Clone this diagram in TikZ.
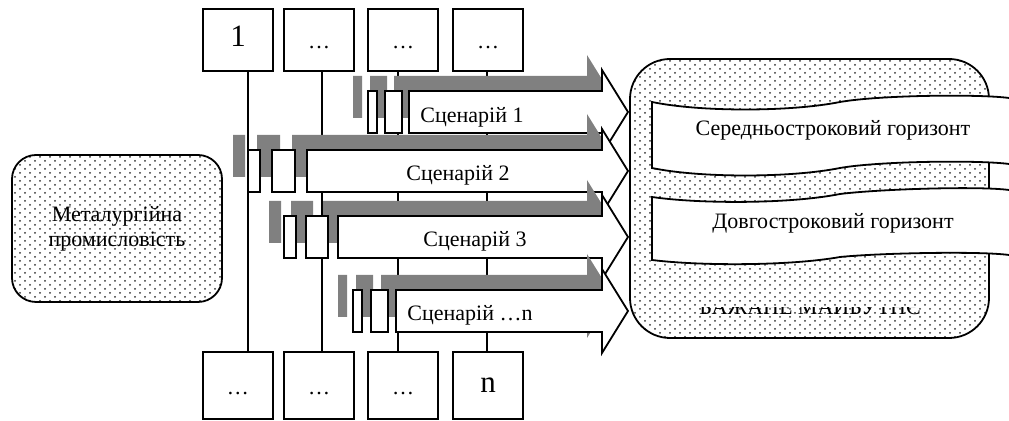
\documentclass[tikz,border=0pt]{standalone}
\usepackage{fontspec}
\setmainfont{Liberation Serif}
\usetikzlibrary{patterns}

% sparse staggered dots for the two rounded fields
\pgfdeclarepatternformonly{sparsedots}{\pgfqpoint{-0.7pt}{-0.7pt}}{\pgfqpoint{3.2pt}{2.7pt}}{\pgfqpoint{5pt}{4pt}}{%
  \pgfpathcircle{\pgfqpoint{0pt}{0pt}}{0.5pt}
  \pgfpathcircle{\pgfqpoint{2.5pt}{2pt}}{0.5pt}
  \pgfusepath{fill}}

\tikzset{
  box/.style={draw, line width=0.9pt, minimum width=35pt, minimum height=31pt, inner sep=0pt, fill=white,
    text height=9pt, text depth=0pt, font=\fontsize{11}{13}\selectfont},
  bigbox/.style={box, text height=7pt, font=\fontsize{15.5}{17}\selectfont},
  zone/.style={draw, line width=0.9pt, pattern=sparsedots, pattern color=black!80, inner sep=0pt},
  scenshadow/.style={fill=black!50},
  scenbody/.style={fill=white, draw=black, line width=0.9pt},
  scentext/.style={inner sep=0pt, font=\fontsize{11}{13}\selectfont},
}

% #1 centre y, #2/#3 first bar, #4/#5 second bar, #6 left end of the arrow body
\newcommand\scenario[6]{%
  \begin{scope}[shift={(-15,-15)}]
    \fill[scenshadow] (#2,#1-21) rectangle (#3,#1+21) (#4,#1-21) rectangle (#5,#1+21)
      (#6,#1-21) -- (602,#1-21) -- (602,#1-42) -- (628,#1) -- (602,#1+42) -- (602,#1+21) -- (#6,#1+21) -- cycle;
  \end{scope}
  \draw[scenbody] (#2,#1-21) rectangle (#3,#1+21) (#4,#1-21) rectangle (#5,#1+21)
    (#6,#1-21) -- (602,#1-21) -- (602,#1-42) -- (628,#1) -- (602,#1+42) -- (602,#1+21) -- (#6,#1+21) -- cycle;
}

\begin{document}
\begin{tikzpicture}[x=0.5pt, y=-0.5pt]
  %%%%% START %%%%%
  \useasboundingbox (0,0) rectangle (1009,421);

  \node[bigbox] (t1) at (238,40) {1};
  \node[box] (t2) at (319,40) {\ldots};
  \node[box] (t3) at (403,40) {\ldots};
  \node[box] (t4) at (488,40) {\ldots};

  \node[box, minimum height=33.5pt] (b1) at (238,385.5) {\ldots};
  \node[box, minimum height=33.5pt] (b2) at (319,385.5) {\ldots};
  \node[box, minimum height=33.5pt] (b3) at (403,385.5) {\ldots};
  \node[bigbox, minimum height=33.5pt] (b4) at (488,385.5) {n};

  \coordinate (l1) at (248,0);
  \coordinate (l2) at (322,0);
  \coordinate (l3) at (398,0);
  \coordinate (l4) at (487,0);
  \foreach \i in {1,...,4}
    \draw[line width=0.9pt] (t\i.south -| l\i) -- (b\i.north -| l\i);

  \scenario{112}{368}{377}{385}{402}{409}
  \scenario{171}{248}{260}{272}{295}{307}
  \scenario{237}{284}{296}{306}{328}{338}
  \scenario{311}{353}{362}{371}{388}{396}

  \node[scentext] (sc1) at (472,117) {Сценарій 1};
  \node[scentext] (sc2) at (458,175) {Сценарій 2};
  \node[scentext] (sc3) at (475,241) {Сценарій 3};
  \node[scentext] (sc4) at (470,315) {Сценарій …n};

  \node[zone, rounded corners=12pt, minimum width=105pt, minimum height=73.5pt, align=center,
    font=\fontsize{11}{12.5}\selectfont] (metal) at (117,228.5) {Металургійна\\промисловість};

  \node[zone, rounded corners=20pt, minimum width=179.5pt, minimum height=139.5pt] (future) at (809.5,198.5) {};

  % mid-term band
  \fill[white] (652,102) .. controls (700,112) and (790,112) .. (840,102) .. controls (880,95) and (980,94) .. (1009,98)
    -- (1009,164) .. controls (980,160) and (880,161) .. (840,168) .. controls (790,178) and (700,178) .. (652,168) -- cycle;
  \draw[line width=0.9pt] (1009,98) .. controls (980,94) and (880,95) .. (840,102) .. controls (790,112) and (700,112) .. (652,102)
    -- (652,168) .. controls (700,178) and (790,178) .. (840,168) .. controls (880,161) and (980,160) .. (1009,164);
  \node[scentext] (midterm) at (833,130) {Середньостроковий горизонт};

  % long-term band
  \fill[white] (652,197) .. controls (700,204) and (790,204) .. (840,194) .. controls (880,189) and (980,186) .. (1009,190)
    -- (1009,255) .. controls (980,251) and (880,253) .. (840,257) .. controls (790,266) and (700,266) .. (652,260) -- cycle;
  \draw[line width=0.9pt] (1009,190) .. controls (980,186) and (880,189) .. (840,194) .. controls (790,204) and (700,204) .. (652,197)
    -- (652,260) .. controls (700,266) and (790,266) .. (840,257) .. controls (880,253) and (980,251) .. (1009,255);
  \node[scentext] (longterm) at (833,223) {Довгостроковий горизонт};

  \begin{scope}
    \clip (690,308) rectangle (930,322);
    \node[scentext, anchor=base] (goal) at (810,315) {БАЖАНЕ МАЙБУТНЄ};
  \end{scope}

  %%%%% END %%%%%
\end{tikzpicture}
\end{document}
